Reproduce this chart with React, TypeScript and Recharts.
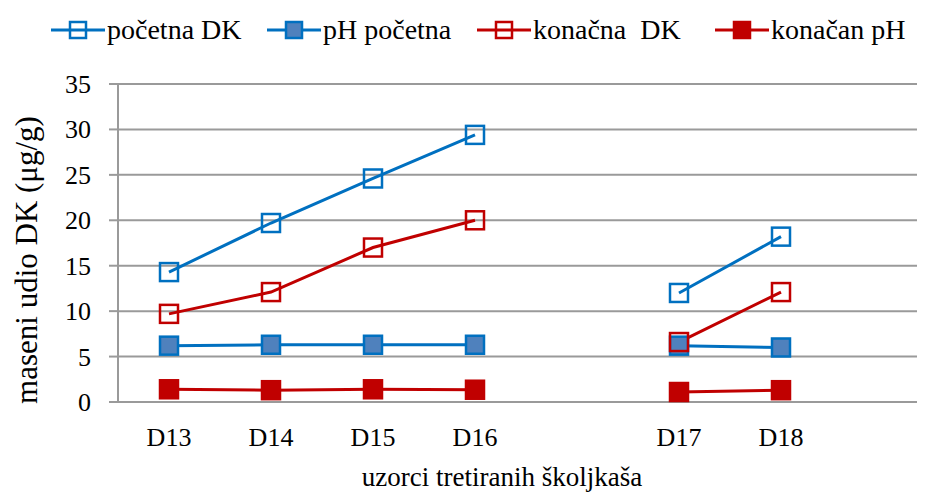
import { LineChart, Line, XAxis, YAxis, CartesianGrid } from "recharts";

/* ==============================
   Podaci
   ============================== */

const uzorci = ["D13", "D14", "D15", "D16", "", "D17", "D18", " "];
const pocetnaDK = [14.3, 19.7, 24.6, 29.4, null, 12.0, 18.2, null];
const phPocetna = [6.2, 6.3, 6.3, 6.3, null, 6.2, 6.0, null];
const konacnaDK = [9.7, 12.1, 17.0, 20.0, null, 6.6, 12.1, null];
const konacanPh = [1.4, 1.3, 1.4, 1.35, null, 1.1, 1.3, null];
const yTicks = [0, 5, 10, 15, 20, 25, 30, 35];

const data = uzorci.map((u, i) => ({
  uzorak: u,
  pocetnaDK: pocetnaDK[i],
  phPocetna: phPocetna[i],
  konacnaDK: konacnaDK[i],
  konacanPh: konacanPh[i],
}));

const BLUE = "#0070C0";
const BLUE_FILL = "#4F81BD";
const RED = "#C00000";
const FONT = '"Liberation Serif", "DejaVu Serif", serif';
const M = 18; // veličina markera

// kvadratni marker, prazan ili pun
const squareDot = (stroke: string, fill: string) => (props: any) => {
  const { cx, cy, index } = props;
  if (cx == null || cy == null || props.value == null) return <g key={index} />;
  return (
    <rect
      key={index}
      x={cx - M / 2}
      y={cy - M / 2}
      width={M}
      height={M}
      fill={fill}
      stroke={stroke}
      strokeWidth={2.5}
    />
  );
};

const legendItems = [
  { label: "početna DK", stroke: BLUE, fill: "none", left: 51 },
  { label: "pH početna", stroke: BLUE, fill: BLUE_FILL, left: 267 },
  { label: "konačna  DK", stroke: RED, fill: "none", left: 477 },
  { label: "konačan pH", stroke: RED, fill: RED, left: 715 },
];

const txt = { fontFamily: FONT, fill: "#000" };

export default function App() {
  return (
    <div
      style={{
        position: "relative",
        width: 925,
        height: 493,
        overflow: "hidden",
        margin: "-8px 0 0 -8px",
        background: "#fff",
      }}
    >
      {/* Legenda */}
      <svg width={925} height={60} style={{ position: "absolute", left: 0, top: 0 }}>
        {legendItems.map((it) => (
          <g key={it.label}>
            <line x1={it.left} x2={it.left + 54} y1={30} y2={30} stroke={it.stroke} strokeWidth={3} />
            <rect
              x={it.left + 27 - 8}
              y={30 - 8}
              width={16}
              height={16}
              fill={it.fill}
              stroke={it.stroke}
              strokeWidth={2.5}
            />
            <text x={it.left + 56} y={39} fontSize={28} style={{ ...txt, whiteSpace: "pre" }}>
              {it.label}
            </text>
          </g>
        ))}
      </svg>

      <LineChart
        width={940}
        height={493}
        data={data}
        margin={{ top: 84, right: 6, bottom: 61, left: 0 }}
      >
        <CartesianGrid vertical={false} stroke="#9a9a9a" strokeWidth={2} />
        <XAxis
          dataKey="uzorak"
          height={30}
          padding={{ left: 51, right: 51 }}
          tickLine={false}
          axisLine={{ stroke: "#9a9a9a", strokeWidth: 2 }}
          interval={0}
          tick={(p: any) => (
            <text x={p.x} y={446} textAnchor="middle" fontSize={26} style={txt}>
              {p.payload.value}
            </text>
          )}
          label={{
            content: () => (
              <text x={502} y={486} textAnchor="middle" fontSize={27} style={txt}>
                uzorci tretiranih školjkaša
              </text>
            ),
          }}
        />
        <YAxis
          width={118}
          domain={[0, 35]}
          ticks={yTicks}
          interval={0}
          tickSize={9}
          tickMargin={17}
          tickLine={{ stroke: "#9a9a9a", strokeWidth: 2 }}
          axisLine={{ stroke: "#9a9a9a", strokeWidth: 2 }}
          tick={(p: any) => (
            <text x={91} y={p.y} dy={9} textAnchor="end" fontSize={26} style={txt}>
              {p.payload.value}
            </text>
          )}
          label={{
            content: () => (
              <text
                x={0}
                y={0}
                transform="translate(37, 260) rotate(-90)"
                textAnchor="middle"
                fontSize={31}
                style={txt}
              >
                maseni udio DK (μg/g)
              </text>
            ),
          }}
        />
        <Line
          dataKey="pocetnaDK"
          stroke={BLUE}
          strokeWidth={3}
          dot={squareDot(BLUE, "none")}
          isAnimationActive={false}
        />
        <Line
          dataKey="phPocetna"
          stroke={BLUE}
          strokeWidth={3}
          dot={squareDot(BLUE, BLUE_FILL)}
          isAnimationActive={false}
        />
        <Line
          dataKey="konacnaDK"
          stroke={RED}
          strokeWidth={3}
          dot={squareDot(RED, "none")}
          isAnimationActive={false}
        />
        <Line
          dataKey="konacanPh"
          stroke={RED}
          strokeWidth={3}
          dot={squareDot(RED, RED)}
          isAnimationActive={false}
        />
      </LineChart>
    </div>
  );
}
